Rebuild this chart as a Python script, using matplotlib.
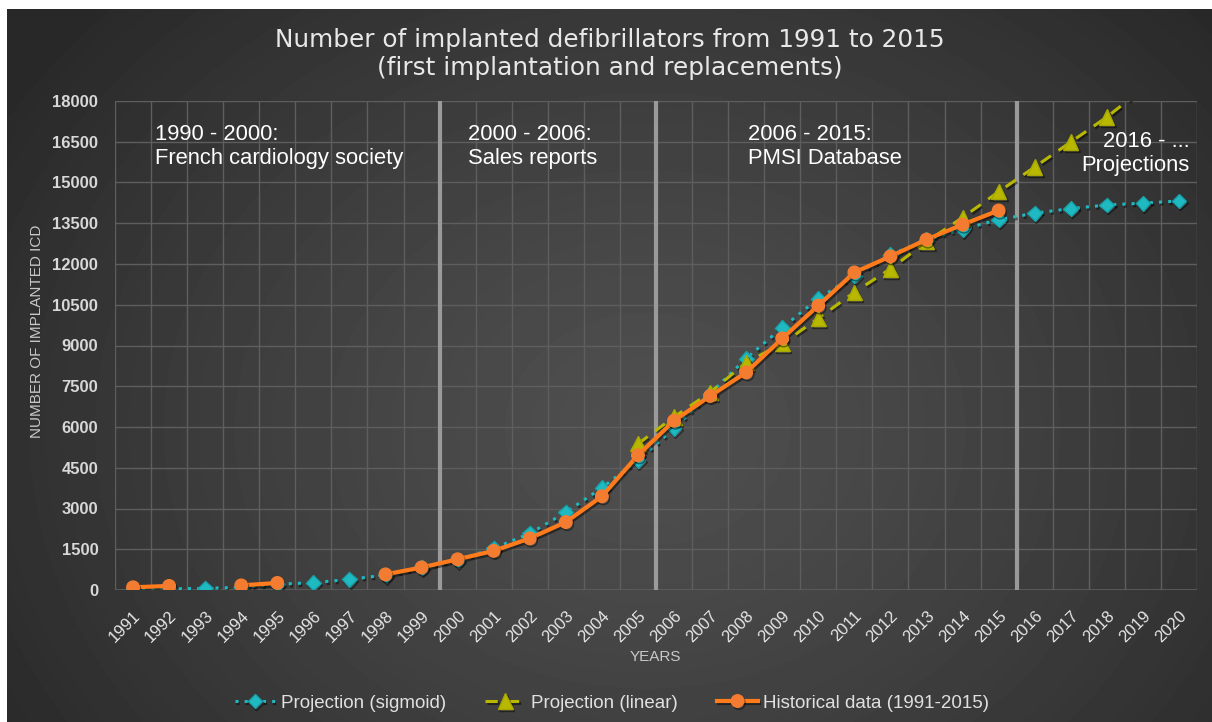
import numpy as np
import matplotlib
matplotlib.use("Agg")
import matplotlib.pyplot as plt
import matplotlib.patheffects as pe

years = list(range(1991, 2021))

# historical data (gaps where no data)
historical = [100, 150, np.nan, 170, 260, np.nan, np.nan, 575, 830, 1130,
              1440, 1900, 2500, 3450, 4960, 6230, 7140, 8010, 9260, 10470,
              11690, 12280, 12900, 13450, 13970,
              np.nan, np.nan, np.nan, np.nan, np.nan]

sigmoid = [20, 40, 60, 100, 210, 270, 390, 550, 830, 1100,
           1530, 2080, 2860, 3760, 4780, 5950, 7230, 8520, 9660, 10720,
           11570, 12340, 12890, 13280, 13630, 13870, 14040, 14170, 14240, 14320]

linear = [np.nan] * 14 + [5380, 6370, 7270, 8370, 9070, 10000,
                          10960, 11820, 12820, 13710, 14660, 15570, 16490, 17410,
                          18450, 19450]

periods = ["1990 - 2000:\nFrench cardiology society",
           "2000 - 2006:\nSales reports",
           "2006 - 2015:\nPMSI Database",
           "2016 - ...\nProjections"]

plain = ["Liberation Sans", "DejaVu Sans"]

W, H = 1212, 722
fig = plt.figure(figsize=(W / 100, H / 100), dpi=100, facecolor="white")

# dark radial background
bg = fig.add_axes([7 / W, 0, 1 - 7 / W, (H - 9) / H])
bg.axis("off")
yy, xx = np.mgrid[0:713, 0:1205]
r = np.sqrt(((xx - 640) / 760.0) ** 2 + ((yy - 420) / 620.0) ** 2)
shade = 0.31 - 0.15 * np.clip(r, 0, 1) ** 1.3
bg.imshow(shade, cmap="gray", vmin=0, vmax=1, aspect="auto", interpolation="bilinear")

ax = fig.add_axes([115 / W, 1 - 590 / H, (1197 - 115) / W, (590 - 101) / H])
ax.set_facecolor("none")
x = np.arange(len(years))

shadow = [pe.SimpleLineShadow(offset=(1, -1.5), shadow_color="black", alpha=0.45), pe.Normal()]

ax.plot(x, sigmoid, linestyle=(0, (1, 2)), color="#1fb9c2", lw=2.2, marker="D",
        markersize=7.5, markeredgecolor="#17a2aa", label="Projection (sigmoid)", zorder=3,
        path_effects=shadow)
ax.plot(x, linear, linestyle=(0, (4, 3)), color="#b8b800", lw=2.2, marker="^",
        markersize=11, markeredgecolor="#a8a800", label="Projection (linear)", zorder=4,
        path_effects=shadow)
ax.plot(x, historical, linestyle="-", color="#ff7b1c", lw=3, marker="o",
        markersize=9, markerfacecolor="#f47c30", markeredgecolor="#f47c30",
        label="Historical data (1991-2015)", zorder=5, path_effects=shadow)

ax.set_xlim(-0.5, len(years) - 0.5)
ax.set_ylim(0, 18000)
ax.set_yticks(np.arange(0, 18001, 1500))
ax.set_xticks(x)
ax.set_xticklabels([str(y) for y in years], rotation=45, ha="right",
                   rotation_mode="anchor", fontsize=12, color="#e6e6e6", family=plain)
for lab in ax.get_yticklabels():
    lab.set_fontsize(12)
    lab.set_fontweight("bold")
    lab.set_color("#d8d8d8")
    lab.set_family(plain)
ax.tick_params(axis="both", length=0)
ax.tick_params(axis="x", pad=13)
ax.tick_params(axis="y", pad=12)

for k in range(len(years) + 1):
    ax.axvline(k - 0.5, color="#5e5e5e", lw=1, zorder=1)
ax.grid(axis="y", color="#5e5e5e", lw=1, zorder=1)
for s in ax.spines.values():
    s.set_visible(False)
ax.axhline(0, color="#5e5e5e", lw=1.2, zorder=1)

for b in [8.5, 14.5, 24.5]:
    ax.axvline(b, color="#9a9a9a", lw=3, zorder=2)

ax.set_ylabel("NUMBER OF IMPLANTED ICD", color="#c8c8c8", fontsize=11, family=plain)
ax.yaxis.set_label_coords(-0.0656, 0.528)
ax.set_xlabel("YEARS", color="#c8c8c8", fontsize=11, family=plain)
ax.xaxis.set_label_coords(0.499, -0.1227)

txt = dict(color="white", fontsize=15.8, family=plain, va="top", linespacing=1.2)
ax.text(0.61, 17150, periods[0], ha="left", **txt)
ax.text(9.3, 17150, periods[1], ha="left", **txt)
ax.text(17.05, 17150, periods[2], ha="left", **txt)
ax.text(29.3, 16900, periods[3], ha="right", **txt)

fig.text(0.503, 1 - 54 / H, "Number of implanted defibrillators from 1991 to 2015\n(first implantation and replacements)",
         ha="center", va="center", color="#e8e8e8", fontsize=17.8, family=["DejaVu Sans"],
         linespacing=1.2)

leg = fig.legend(loc="center", bbox_to_anchor=(0.505, 1 - 703 / H), ncol=3, frameon=False,
                 fontsize=13.5, handlelength=2.15, columnspacing=2.1, handletextpad=0.3)
for t in leg.get_texts():
    t.set_color("#e0e0e0")
    t.set_family(plain)

fig.savefig("out.png", dpi=100, facecolor="white")
